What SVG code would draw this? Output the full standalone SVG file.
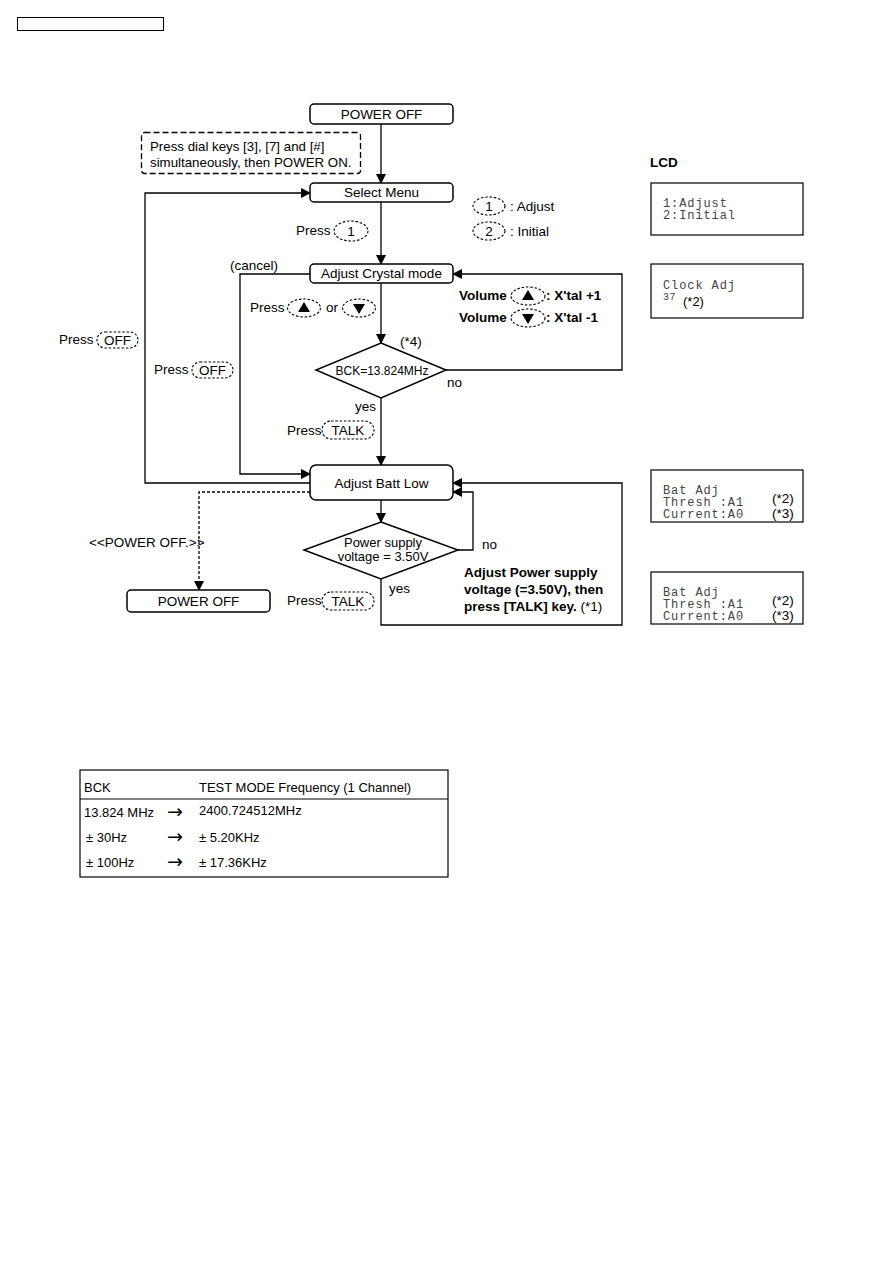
<svg xmlns="http://www.w3.org/2000/svg" width="893" height="1263" viewBox="0 0 893 1263">
<defs>
<marker id="ah" markerWidth="10" markerHeight="10" refX="9" refY="5" orient="auto" markerUnits="userSpaceOnUse">
<path d="M0,0 L10,5 L0,10 Z" fill="#000"/>
</marker>
<style>
text{font-family:"Liberation Sans",Arial,sans-serif;font-size:13.5px;fill:#000}
.b{font-weight:bold}
.m{font-family:"Liberation Mono","Courier New",monospace;font-size:12px;letter-spacing:0.9px;fill:#444}
.t{font-size:13px}
.arr{font-family:"DejaVu Sans",sans-serif;font-size:19px}
.box{fill:#fff;stroke:#000;stroke-width:1.5}
.ln{fill:none;stroke:#000;stroke-width:1.3}
.dot{fill:none;stroke:#000;stroke-width:1.3;stroke-dasharray:3 2}
.key{fill:#fff;stroke:#000;stroke-width:1.1;stroke-dasharray:2.5 1.8}
.lcd{fill:#fff;stroke:#000;stroke-width:1.2}
.c{text-anchor:middle}
</style>
</defs>
<rect width="893" height="1263" fill="#fff"/>
<rect x="17.5" y="17.5" width="146" height="13" fill="none" stroke="#000" stroke-width="1"/>

<g id="connectors">
<line class="ln" x1="381" y1="124" x2="381" y2="183" marker-end="url(#ah)"/>
<line class="ln" x1="381" y1="202" x2="381" y2="264" marker-end="url(#ah)"/>
<line class="ln" x1="381" y1="283" x2="381" y2="343" marker-end="url(#ah)"/>
<polyline class="ln" points="446,370 622,370 622,274 453,274" marker-end="url(#ah)"/>
<line class="ln" x1="381" y1="398" x2="381" y2="465" marker-end="url(#ah)"/>
<polyline class="ln" points="310,274 240,274 240,474 310,474" marker-end="url(#ah)"/>
<polyline class="ln" points="310,483 145,483 145,193 310,193" marker-end="url(#ah)"/>
<polyline class="dot" points="310,492 199,492 199,590" marker-end="url(#ah)"/>
<line class="ln" x1="381" y1="500" x2="381" y2="522" marker-end="url(#ah)"/>
<polyline class="ln" points="458,550 473,550 473,492 453,492" marker-end="url(#ah)"/>
<polyline class="ln" points="381,579 381,625 622,625 622,483 453,483" marker-end="url(#ah)"/>
</g>

<g id="note">
<rect x="141.5" y="132.5" width="219" height="41" rx="3" fill="#fff" stroke="#000" stroke-width="1.3" stroke-dasharray="6 3"/>
<text x="150" y="151" style="font-size:13.3px">Press dial keys [3], [7] and [#]</text>
<text x="150" y="167" style="font-size:13.3px">simultaneously, then POWER ON.</text>
</g>

<g id="power-off-top">
<rect class="box" x="310" y="104" width="143" height="20" rx="4"/>
<text class="c" x="381.5" y="119">POWER OFF</text>
</g>
<g id="select-menu">
<rect class="box" x="310" y="183" width="143" height="19" rx="4"/>
<text class="c" x="381.5" y="197">Select Menu</text>
</g>
<g id="adjust-crystal">
<rect class="box" x="310" y="264" width="143" height="19" rx="4"/>
<text class="c" x="381.5" y="278">Adjust Crystal mode</text>
</g>
<g id="bck-diamond">
<polygon class="box" points="381,343 446,370 381,398 316,370"/>
<text class="c" x="382" y="375" style="font-size:12px">BCK=13.824MHz</text>
</g>
<g id="adjust-batt">
<rect class="box" x="310" y="465" width="143" height="35" rx="6"/>
<text class="c" x="381.5" y="488">Adjust Batt Low</text>
</g>
<g id="voltage-diamond">
<polygon class="box" points="381,522 458,550 381,579 304,550"/>
<text class="c" x="383" y="547" style="font-size:13px">Power supply</text>
<text class="c" x="383" y="561" style="font-size:13px">voltage = 3.50V</text>
</g>
<g id="power-off-bottom">
<rect class="box" x="127" y="590" width="143" height="22" rx="4"/>
<text class="c" x="198.5" y="606">POWER OFF</text>
</g>

<g id="labels">
<text x="296" y="235">Press</text>
<ellipse class="key" cx="351" cy="231" rx="17" ry="10"/>
<text class="c" x="351" y="236">1</text>
<ellipse class="key" cx="489" cy="206" rx="16" ry="9"/>
<text class="c" x="489" y="211">1</text>
<text x="510" y="211">: Adjust</text>
<ellipse class="key" cx="489" cy="231" rx="16" ry="9"/>
<text class="c" x="489" y="236">2</text>
<text x="510" y="236">: Initial</text>
<text x="230" y="270">(cancel)</text>
<text x="250" y="312">Press</text>
<ellipse class="key" cx="304" cy="308" rx="16.5" ry="9"/>
<polygon points="304,302 310,312 298,312" fill="#000"/>
<text x="326" y="312">or</text>
<ellipse class="key" cx="359" cy="308" rx="16.5" ry="9"/>
<polygon points="359,314 365,304 353,304" fill="#000"/>
<text class="b" x="459" y="300">Volume</text>
<ellipse class="key" cx="528" cy="296" rx="17" ry="9"/>
<polygon points="528,290 534,300 522,300" fill="#000"/>
<text class="b" x="546" y="300">: X'tal +1</text>
<text class="b" x="459" y="322">Volume</text>
<ellipse class="key" cx="528" cy="318" rx="17" ry="9"/>
<polygon points="528,324 534,314 522,314" fill="#000"/>
<text class="b" x="546" y="322">: X'tal -1</text>
<text x="400" y="346">(*4)</text>
<text x="447" y="387">no</text>
<text x="355" y="411">yes</text>
<text x="287" y="435">Press</text>
<rect class="key" x="322" y="421" width="52" height="18" rx="9"/>
<text class="c" x="348" y="435">TALK</text>
<text x="59" y="344">Press</text>
<rect class="key" x="97" y="332" width="41" height="16" rx="8"/>
<text class="c" x="117.5" y="345">OFF</text>
<text x="154" y="374">Press</text>
<rect class="key" x="192" y="362" width="41" height="16" rx="8"/>
<text class="c" x="212.5" y="375">OFF</text>
<text x="89" y="547">&lt;&lt;POWER OFF.&gt;&gt;</text>
<text x="482" y="549">no</text>
<text x="389" y="593">yes</text>
<text x="287" y="605">Press</text>
<rect class="key" x="322" y="592" width="52" height="18" rx="9"/>
<text class="c" x="348" y="606">TALK</text>
<text class="b" x="464" y="577">Adjust Power supply</text>
<text class="b" x="464" y="594">voltage (=3.50V), then</text>
<text x="464" y="611"><tspan class="b">press [TALK] key.</tspan> (*1)</text>
</g>

<g id="lcd">
<text class="b" x="650" y="167">LCD</text>
<rect class="lcd" x="651" y="183" width="152" height="52"/>
<text class="m" x="663" y="207">1:Adjust</text>
<text class="m" x="663" y="219">2:Initial</text>
<rect class="lcd" x="651" y="264" width="152" height="54"/>
<text class="m" x="663" y="289">Clock Adj</text>
<text class="m" x="663" y="300" style="font-size:10px;letter-spacing:0.5px">37</text>
<text x="683" y="306" style="font-size:13px">(*2)</text>
<rect class="lcd" x="651" y="470" width="152" height="52"/>
<text class="m" x="663" y="494">Bat Adj</text>
<text class="m" x="663" y="506">Thresh :A1</text>
<text class="m" x="663" y="518">Current:A0</text>
<text x="772" y="503" style="font-size:13.5px">(*2)</text>
<text x="772" y="518" style="font-size:13.5px">(*3)</text>
<rect class="lcd" x="651" y="572" width="152" height="52"/>
<text class="m" x="663" y="596">Bat Adj</text>
<text class="m" x="663" y="608">Thresh :A1</text>
<text class="m" x="663" y="620">Current:A0</text>
<text x="772" y="605" style="font-size:13.5px">(*2)</text>
<text x="772" y="620" style="font-size:13.5px">(*3)</text>
</g>

<g id="table">
<rect x="80" y="770" width="368" height="107" fill="#fff" stroke="#000" stroke-width="1.2"/>
<line x1="80" y1="799" x2="448" y2="799" stroke="#000" stroke-width="1.2"/>
<text class="t" x="84" y="792">BCK</text>
<text class="t" x="199" y="792">TEST MODE Frequency (1 Channel)</text>
<text class="t" x="84" y="817">13.824 MHz</text>
<text class="arr" x="167" y="818">→</text>
<text class="t" x="199" y="815">2400.724512MHz</text>
<text class="t" x="86" y="842">± 30Hz</text>
<text class="arr" x="167" y="843">→</text>
<text class="t" x="199" y="842">± 5.20KHz</text>
<text class="t" x="86" y="867">± 100Hz</text>
<text class="arr" x="167" y="868">→</text>
<text class="t" x="199" y="867">± 17.36KHz</text>
</g>
</svg>
